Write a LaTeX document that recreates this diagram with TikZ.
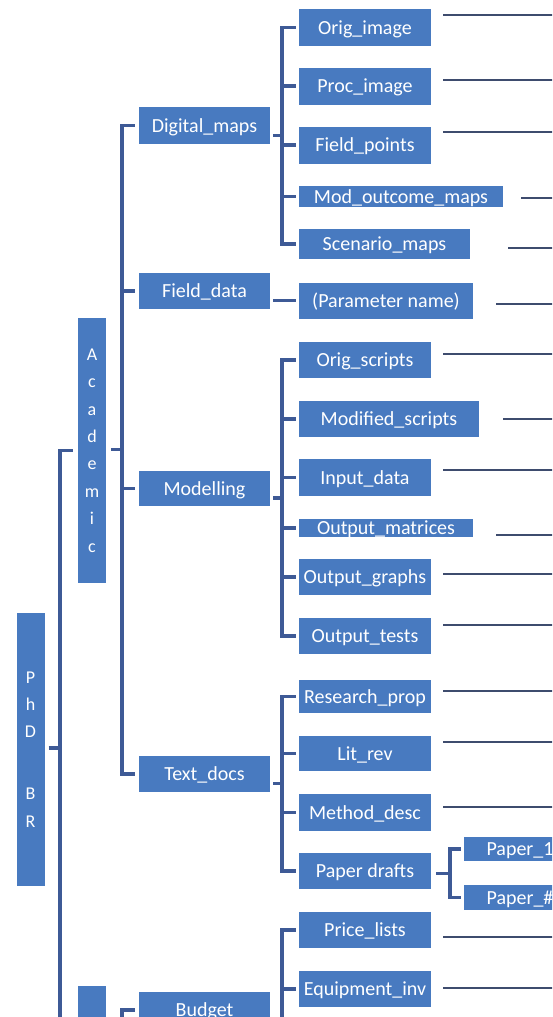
\documentclass[tikz,border=0pt]{standalone}
\usepackage{fontspec}
\setmainfont{Carlito}
\usetikzlibrary{calc}
\definecolor{boxblue}{RGB}{72,122,192}
\definecolor{linkblue}{RGB}{62,90,150}
\definecolor{leadgray}{RGB}{62,76,110}

\begin{document}
\begin{tikzpicture}[yscale=-1, x=1pt, y=1pt,
    box/.style={rectangle, fill=boxblue, text=white, inner sep=0pt,
        font=\fontsize{20}{24}\selectfont, text height=15pt, text depth=2pt,
        minimum width=132pt, minimum height=36pt},
    vbox/.style={rectangle, fill=boxblue, text=white, inner sep=0pt, align=center,
        font=\fontsize{18}{27.4}\selectfont, minimum width=28pt},
    link/.style={draw=linkblue, line width=3.4pt},
    lead/.style={draw=leadgray, line width=2pt}]

    \useasboundingbox (0,0) rectangle (552,1017);
    \clip (0,0) rectangle (552,1017);

    % top levels
    \node[vbox, minimum height=273pt] (phd) at (30.5,749.5) {P\\h\\D\\[34.6pt]B\\R};
    \node[vbox, minimum height=265pt] (acad) at (92,450.5) {A\\c\\a\\d\\e\\m\\i\\c};
    \node[vbox, minimum height=119pt] (second) at (92,1045.5) {};

    \node[box, minimum width=131pt, minimum height=37pt] (dm) at (204.5,125.5) {Digital\_maps};
    \node[box, minimum width=131pt] (fd) at (204.5,291) {Field\_data};
    \node[box, minimum width=131pt, minimum height=35pt] (mdl) at (204.5,488.5) {Modelling};
    \node[box, minimum width=131pt] (td) at (204.5,774) {Text\_docs};
    \node[box, minimum width=131pt] (bud) at (204.5,1010) {Budget};

    % digital maps
    \node[box, minimum height=37pt] (oi) at (365,27.5) {Orig\_image};
    \node[box, minimum height=37pt] (pi) at (365,86) {Proc\_image};
    \node[box, minimum height=37pt] (fp) at (365,145) {Field\_points};
    \node[box, minimum width=204pt, minimum height=21pt] (mo) at (401,196.5) {Mod\_outcome\_maps};
    \node[box, minimum width=171pt, minimum height=30pt] (sm) at (384.5,244) {Scenario\_maps};
    % field data
    \node[box, minimum width=174pt] (pn) at (386,300.5) {(Parameter name)};
    % modelling
    \node[box] (os) at (365,360) {Orig\_scripts};
    \node[box, minimum width=180pt] (ms) at (389,419) {Modified\_scripts};
    \node[box, minimum height=37pt] (id) at (365,477.5) {Input\_data};
    \node[box, minimum width=174pt, minimum height=18pt] (om) at (386,528) {Output\_matrices};
    \node[box] (og) at (365,577) {Output\_graphs};
    \node[box] (ot) at (365,636) {Output\_tests};
    % text docs
    \node[box, minimum height=33pt] (rp) at (365,696.5) {Research\_prop};
    \node[box, minimum height=35pt] (lr) at (365,753.5) {Lit\_rev};
    \node[box, minimum height=37pt] (md) at (365,812.5) {Method\_desc};
    \node[box] (pd) at (365,871) {Paper drafts};
    \node[box, minimum width=112pt, minimum height=24pt] (p1) at (520,849) {Paper\_1};
    \node[box, minimum width=112pt, minimum height=25pt] (pn2) at (520,897.5) {Paper\_\#};
    % budget
    \node[box] (pl) at (365,930) {Price\_lists};
    \node[box] (ei) at (365,989) {Equipment\_inv};

    % brackets
    \coordinate (phdbus) at ($(acad.west)!.5!(second.west)+(-18,0)$);
    \draw[link] ($(phd.east |- phdbus)+(4,0)$) -- (phdbus);
    \foreach \c in {acad,second}
        \draw[link] (phdbus) |- ($(\c.west)+(-5,0)$);

    \coordinate (acadbus) at ($(dm.west)!.5!(td.west)+(-17,0)$);
    \draw[link] ($(acad.east |- acadbus)+(5,0)$) -- (acadbus);
    \foreach \c in {dm,fd,mdl,td}
        \draw[link] (acadbus) |- ($(\c.west)+(-4,0)$);

    \coordinate (secbus) at ($(bud.west)+(-17,60)$);
    \draw[link] (secbus) |- ($(bud.west)+(-4,0)$);

    \coordinate (dmbus) at ($(oi.west)!.5!(sm.west)+(-17,0)$);
    \draw[link] ($(dm.east |- dmbus)+(3,0)$) -- (dmbus);
    \foreach \c in {oi,pi,fp,mo,sm}
        \draw[link] (dmbus) |- ($(\c.west)+(-3,0)$);

    \draw[link] ($(fd.east |- pn.west)+(3,0)$) -- ($(pn.west)+(-3,0)$);

    \coordinate (mdlbus) at ($(os.west)!.5!(ot.west)+(-17,0)$);
    \draw[link] ($(mdl.east |- mdlbus)+(3,0)$) -- (mdlbus);
    \foreach \c in {os,ms,id,om,og,ot}
        \draw[link] (mdlbus) |- ($(\c.west)+(-3,0)$);

    \coordinate (tdbus) at ($(rp.west)!.5!(pd.west)+(-17,0)$);
    \draw[link] ($(td.east |- tdbus)+(3,0)$) -- (tdbus);
    \foreach \c in {rp,lr,md,pd}
        \draw[link] (tdbus) |- ($(\c.west)+(-3,0)$);

    \coordinate (pdbus) at ($(p1.west)!.5!(pn2.west)+(-14,0)$);
    \draw[link] ($(pd.east |- pdbus)+(5,0)$) -- (pdbus);
    \foreach \c in {p1,pn2}
        \draw[link] (pdbus) |- ($(\c.west)+(-3,0)$);

    \coordinate (budbus) at ($(pl.west)+(-17,100)$);
    \foreach \c in {pl,ei}
        \draw[link] (budbus) |- ($(\c.west)+(-3,0)$);

    % leads to the next level
    \foreach \n/\dx/\dy in {oi/12/-12.5, pi/12/-6, fp/12/-13, mo/18/1.5, sm/38/4,
            pn/23/3, os/12/-6, ms/24/0, id/12/-7.5, om/23/7, og/12/-3, ot/12/-11,
            rp/12/-5.5, lr/12/-11.5, md/12/-5.5, pl/12/7, ei/12/-1}
        \draw[lead] ($(\n.east)+(\dx,\dy)$) -- ($(\n.east)+(200,\dy)$);
\end{tikzpicture}
\end{document}
